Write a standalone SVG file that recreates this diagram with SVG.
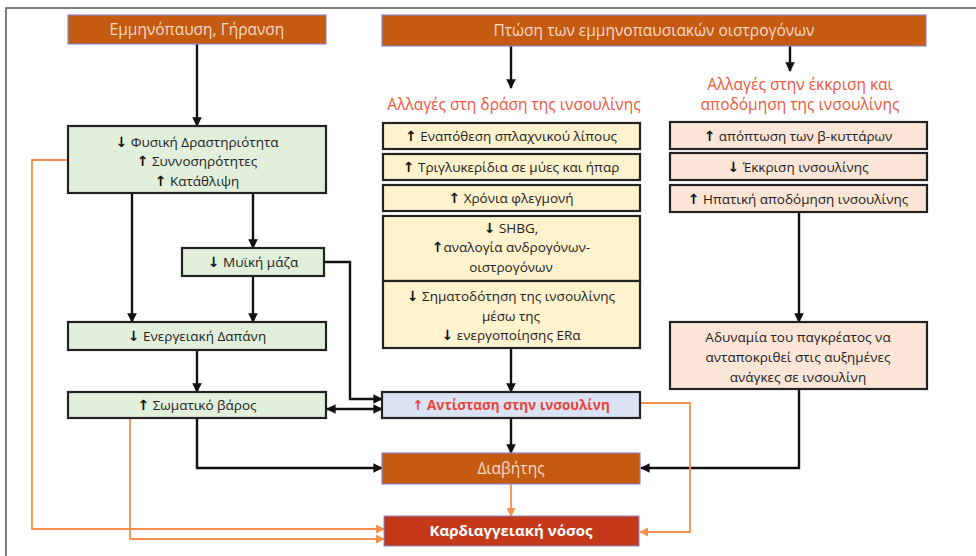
<svg xmlns="http://www.w3.org/2000/svg" width="976" height="556" viewBox="0 0 976 556">
<defs>
<style>
.t{font-family:"Open Sans","Liberation Sans",sans-serif;font-size:13.5px;fill:#222;text-anchor:middle}
.w{fill:#f6dccb;font-size:15.5px}
.h{fill:#f0553a;font-size:15.5px}
.a{font-family:"DejaVu Sans",sans-serif;font-weight:bold;fill:#111;font-size:14px}
.b{stroke:#222;stroke-width:2.2}
.g{fill:#e2efda}
.y{fill:#fff2cc}
.p{fill:#fbe5d6}
.o{fill:#c55a11;stroke:#8e86c6;stroke-width:1.2}
.k{fill:none;stroke:#111;stroke-width:2.4}
.r{fill:none;stroke:#f5904a;stroke-width:1.8}
</style>
<marker id="ak" viewBox="0 0 10 10" refX="9" refY="5" markerWidth="4" markerHeight="4" orient="auto-start-reverse"><path d="M0,0L10,5L0,10z" fill="#111"/></marker>
<marker id="ao" viewBox="0 0 10 10" refX="9" refY="5" markerWidth="5" markerHeight="5" orient="auto"><path d="M0,0L10,5L0,10z" fill="#f5904a"/></marker>
</defs>
<rect width="976" height="556" fill="#fff"/>
<path d="M6,556V8H976" fill="none" stroke="#555" stroke-width="1.5"/>

<g id="connectors">
<path class="k" d="M197,44V126" marker-end="url(#ak)"/>
<path class="k" d="M511,46V88" marker-end="url(#ak)"/>
<path class="k" d="M790,46V71" marker-end="url(#ak)"/>
<path class="k" d="M132,193V322" marker-end="url(#ak)"/>
<path class="k" d="M253,193V248" marker-end="url(#ak)"/>
<path class="k" d="M253,276V322" marker-end="url(#ak)"/>
<path class="k" d="M324,262H350V399H382" marker-end="url(#ak)"/>
<path class="k" d="M197,350V392" marker-end="url(#ak)"/>
<path class="k" d="M327,409H382" marker-start="url(#ak)" marker-end="url(#ak)"/>
<path class="k" d="M197,418V468H382" marker-end="url(#ak)"/>
<path class="k" d="M511,348V392" marker-end="url(#ak)"/>
<path class="k" d="M511,418V453" marker-end="url(#ak)"/>
<path class="k" d="M799,212V322" marker-end="url(#ak)"/>
<path class="k" d="M799,389V468H641" marker-end="url(#ak)"/>
<path class="r" d="M68,160H32V529H384" marker-end="url(#ao)"/>
<path class="r" d="M130,418V539H384" marker-end="url(#ao)"/>
<path class="r" d="M640,403H690V532H640" marker-end="url(#ao)"/>
<path class="r" d="M511,484V516" marker-end="url(#ao)"/>
</g>

<g id="n-menopause"><rect class="o" x="68" y="15" width="258" height="29"/><text class="t w" x="197" y="35">Εμμηνόπαυση, Γήρανση</text></g>
<g id="n-estrogen"><rect class="o" x="382" y="15" width="544" height="31"/><text class="t w" x="654" y="36">Πτώση των εμμηνοπαυσιακών οιστρογόνων</text></g>

<g id="n-activity"><rect class="g b" x="68" y="126" width="258" height="67"/>
<text class="t" x="197" y="147"><tspan class="a">↓</tspan> Φυσική Δραστηριότητα</text>
<text class="t" x="197" y="166"><tspan class="a">↑</tspan> Συννοσηρότητες</text>
<text class="t" x="197" y="186"><tspan class="a">↑</tspan> Κατάθλιψη</text></g>
<g id="n-muscle"><rect class="g b" x="182" y="248" width="142" height="28"/><text class="t" x="253" y="267"><tspan class="a">↓</tspan> Μυϊκή μάζα</text></g>
<g id="n-energy"><rect class="g b" x="68" y="322" width="258" height="28"/><text class="t" x="197" y="341"><tspan class="a">↓</tspan> Ενεργειακή Δαπάνη</text></g>
<g id="n-weight"><rect class="g b" x="68" y="392" width="258" height="26"/><text class="t" x="197" y="410"><tspan class="a">↑</tspan> Σωματικό βάρος</text></g>

<g id="h-action"><text class="t h" x="514" y="110">Αλλαγές στη δράση της ινσουλίνης</text></g>
<g id="n-fat"><rect class="y b" x="383" y="123" width="257" height="26"/><text class="t" x="511" y="141"><tspan class="a">↑</tspan> Εναπόθεση σπλαχνικού λίπους</text></g>
<g id="n-tg"><rect class="y b" x="383" y="154" width="257" height="26"/><text class="t" x="511" y="172"><tspan class="a">↑</tspan> Τριγλυκερίδια σε μύες και ήπαρ</text></g>
<g id="n-inflam"><rect class="y b" x="383" y="185" width="257" height="26"/><text class="t" x="511" y="203"><tspan class="a">↑</tspan> Χρόνια φλεγμονή</text></g>
<g id="n-shbg"><rect class="y b" x="383" y="216" width="257" height="65"/>
<text class="t" x="511" y="233"><tspan class="a">↓</tspan> SHBG,</text>
<text class="t" x="511" y="252"><tspan class="a">↑</tspan>αναλογία ανδρογόνων-</text>
<text class="t" x="511" y="272">οιστρογόνων</text></g>
<g id="n-signal"><rect class="y b" x="383" y="281" width="257" height="67"/>
<text class="t" x="511" y="301"><tspan class="a">↓</tspan> Σηματοδότηση της ινσουλίνης</text>
<text class="t" x="511" y="321">μέσω της</text>
<text class="t" x="511" y="340"><tspan class="a">↓</tspan> ενεργοποίησης ERα</text></g>
<g id="n-resist"><rect fill="#dae3f3" class="b" x="382" y="392" width="258" height="26"/><text class="t" x="511" y="410" style="fill:#e8463a;font-weight:bold;font-size:13.5px"><tspan style="font-family:'DejaVu Sans',sans-serif">↑</tspan> Αντίσταση στην ινσουλίνη</text></g>
<g id="n-diabetes"><rect class="o" x="382" y="453" width="258" height="31"/><text class="t w" x="511" y="474">Διαβήτης</text></g>
<g id="n-cvd"><rect fill="#c3391a" stroke="#8e86c6" stroke-width="1" x="384" y="516" width="255" height="30"/><text class="t" x="511" y="536" style="fill:#fff;font-weight:bold;font-size:15px">Καρδιαγγειακή νόσος</text></g>

<g id="h-secretion"><text class="t h" x="800" y="90">Αλλαγές στην έκκριση και</text><text class="t h" x="800" y="110">αποδόμηση της ινσουλίνης</text></g>
<g id="n-apoptosis"><rect class="p b" x="670" y="122" width="257" height="27"/><text class="t" x="798" y="141"><tspan class="a">↑</tspan> απόπτωση των β-κυττάρων</text></g>
<g id="n-secr"><rect class="p b" x="670" y="153" width="257" height="27"/><text class="t" x="798" y="172"><tspan class="a">↓</tspan> Έκκριση ινσουλίνης</text></g>
<g id="n-hepatic"><rect class="p b" x="670" y="185" width="257" height="27"/><text class="t" x="798" y="204"><tspan class="a">↑</tspan> Ηπατική αποδόμηση ινσουλίνης</text></g>
<g id="n-pancreas"><rect class="p b" x="670" y="322" width="257" height="67"/>
<text class="t" x="798" y="342">Αδυναμία του παγκρέατος να</text>
<text class="t" x="798" y="362">ανταποκριθεί στις αυξημένες</text>
<text class="t" x="798" y="382">ανάγκες σε ινσουλίνη</text></g>
</svg>
